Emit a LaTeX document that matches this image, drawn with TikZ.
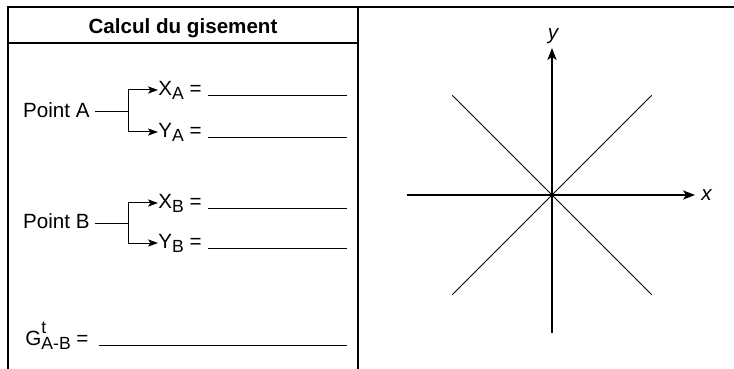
\documentclass[tikz,border=0pt]{standalone}
\usepackage{fontspec}
\setmainfont{Liberation Sans}
\usetikzlibrary{arrows.meta}
\newcommand{\indice}[1]{\raisebox{-2.3pt}{\fontsize{8.8}{10}\selectfont #1}}
\newcommand{\expos}[1]{\rlap{\raisebox{6pt}{\fontsize{8.8}{10}\selectfont #1}}}

\begin{document}
\begin{tikzpicture}[x=0.5pt, y=-0.5pt, >={Stealth[length=5pt,width=3.6pt,inset=1.2pt]},
        lbl/.style={inner sep=0pt, font=\fontsize{10.3}{12}\selectfont},
        cadre/.style={line width=0.75pt},
        trait/.style={line width=0.5pt},
        axe/.style={line width=0.6pt, >={Stealth[length=6pt,width=4.6pt,inset=1.5pt]}}]
        \useasboundingbox (0,0) rectangle (734,369);

        % Cadre et titre
        \draw[cadre] (8,369) -- (8,7) -- (734,7);
        \draw[cadre] (358,7) -- (358,369);
        \draw[cadre] (8,43) -- (358,43);
        \node[lbl, font=\fontsize{10.3}{12}\selectfont\bfseries] (titre) at (183,28) {Calcul du gisement};
        \coordinate (fin) at (347,0);

        % Point A
        \node[lbl, anchor=mid east] (ptA) at (90,112) {Point A};
        \coordinate (brA) at (128,112);
        \node[lbl, anchor=mid west] (xA) at (158,90) {X\indice{A} =};
        \node[lbl, anchor=mid west] (yA) at (158,132) {Y\indice{A} =};
        \draw[trait, shorten <=2.5pt] (ptA.mid east) -- (brA);
        \draw[trait, ->] (brA) |- (xA.mid west);
        \draw[trait, ->] (brA) |- (yA.mid west);
        \draw[trait] ([xshift=3pt]xA.base east) -- (xA.base -| fin);
        \draw[trait] ([xshift=3pt]yA.base east) -- (yA.base -| fin);

        % Point B
        \node[lbl, anchor=mid east] (ptB) at (90,223) {Point B};
        \coordinate (brB) at (128,223);
        \node[lbl, anchor=mid west] (xB) at (158,203) {X\indice{B} =};
        \node[lbl, anchor=mid west] (yB) at (158,243) {Y\indice{B} =};
        \draw[trait, shorten <=2.5pt] (ptB.mid east) -- (brB);
        \draw[trait, ->] (brB) |- (xB.mid west);
        \draw[trait, ->] (brB) |- (yB.mid west);
        \draw[trait] ([xshift=3pt]xB.base east) -- (xB.base -| fin);
        \draw[trait] ([xshift=3pt]yB.base east) -- (yB.base -| fin);

        % Gisement
        \node[lbl, anchor=base west] (gAB) at (25,345) {G\expos{t}\indice{A-B} =};
        \draw[trait] ([xshift=5pt]gAB.base east) -- (gAB.base -| fin);

        % Axes
        \coordinate (O) at (552,195);
        \draw[axe, ->] (407,195) -- (695,195);
        \draw[axe, ->] (552,333) -- (552,48);
        \node[lbl, anchor=mid west] (lx) at (701,195) {\itshape x};
        \node[lbl, anchor=south] (ly) at (553,44) {\itshape y};
        % Diagonales
        \foreach \a in {45, 135} {
            \draw[trait] (O) ++(\a:141) -- ++(\a+180:282);
        }
    \end{tikzpicture}
\end{document}
